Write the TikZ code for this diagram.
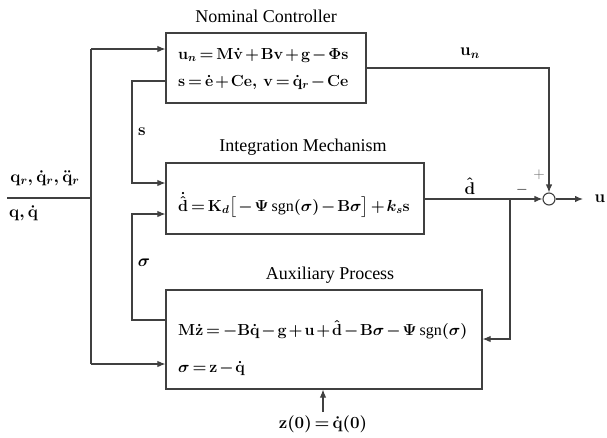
\RequirePackage{fix-cm}
\documentclass[tikz,border=0pt]{standalone}
\usepackage{amsmath}
\usepackage{bm}
\usepackage{fontspec}
\setmainfont{Liberation Serif}
\usetikzlibrary{arrows.meta,calc}
\newcommand{\tightmath}{\medmuskip=1.8mu plus 1mu\thickmuskip=2.8mu plus 1mu}
\newcommand{\sgnop}{\textnormal{sgn}}
\begin{document}
\begin{tikzpicture}[x=1pt,y=-1pt,
  ln/.style={draw=black!75, line width=1.1pt},
  arr/.style={ln, -{Latex[length=8pt,width=6.5pt]}},
  blk/.style={draw=black!75, line width=1.2pt, inner sep=0pt, rectangle},
  ttl/.style={font=\fontsize{18}{20}\selectfont, inner sep=0pt},
  eq/.style={font=\fontsize{16}{18}\selectfont\boldmath\tightmath, inner sep=0pt},
  lbl/.style={font=\fontsize{17}{20}\selectfont\boldmath\tightmath, inner sep=0pt}]
\useasboundingbox (0,0) rectangle (607,437);

% blocks
\node[blk, minimum width=200pt, minimum height=70pt] (b1) at (266,68) {};
\node[blk, minimum width=258pt, minimum height=71pt] (b2) at (295,198.5) {};
\node[blk, minimum width=316pt, minimum height=99pt] (b3) at (324,339.5) {};
\node[draw=black!75, line width=1.1pt, circle, minimum size=12pt, inner sep=0pt, fill=white] (sum) at (549,199) {};

% titles
\node[ttl] (t1) at (266,16) {Nominal Controller};
\node[ttl] (t2) at (303,147) {Integration Mechanism};
\node[ttl] (t3) at (330,275) {Auxiliary Process};

% equations
\node[eq, anchor=west] (e1) at (178,55) {$\mathbf{u}_{n}=\mathbf{M}\dot{\mathbf{v}}+\mathbf{B}\mathbf{v}+\mathbf{g}-\bm{\Phi}\mathbf{s}$};
\node[eq, anchor=west] (e2) at (178,82) {$\mathbf{s}=\dot{\mathbf{e}}+\mathbf{C}\mathbf{e},\,\mathbf{v}=\dot{\mathbf{q}}_{r}-\mathbf{C}\mathbf{e}$};
\node[eq] (e3) at (294,205) {$\dot{\hat{\mathbf{d}}}=\mathbf{K}_{d}\big[-\bm{\Psi}\,\sgnop(\bm{\sigma})-\mathbf{B}\bm{\sigma}\big]+k_{s}\mathbf{s}$};
\node[eq, anchor=west] (e4) at (178,330) {$\mathbf{M}\dot{\mathbf{z}}=-\mathbf{B}\dot{\mathbf{q}}-\mathbf{g}+\mathbf{u}+\hat{\mathbf{d}}-\mathbf{B}\bm{\sigma}-\bm{\Psi}\,\sgnop(\bm{\sigma})$};
\node[eq, anchor=west] (e5) at (178,368) {$\bm{\sigma}=\mathbf{z}-\dot{\mathbf{q}}$};

% input labels
\node[lbl] (in1) at (45,178) {$\mathbf{q}_{r},\dot{\mathbf{q}}_{r},\ddot{\mathbf{q}}_{r}$};
\node[lbl, anchor=west] (in2) at (9,213) {$\mathbf{q},\dot{\mathbf{q}}$};
\node[lbl] (ls) at (142,132) {$\mathbf{s}$};
\node[lbl] (lsig) at (144,263) {$\bm{\sigma}$};
\node[lbl] (lun) at (470,53) {$\mathbf{u}_{n}$};
\node[lbl] (ld) at (470,186) {$\hat{\mathbf{d}}$};
\node[lbl] (lu) at (600,199) {$\mathbf{u}$};
\node[font=\fontsize{15}{16}\selectfont, inner sep=0pt] (minus) at (522,190) {$-$};
\node[font=\fontsize{15}{16}\selectfont, inner sep=0pt, text=black!60] (plus) at (539,175) {$+$};
\node[lbl] (z0) at (323,424) {$\mathbf{z}(0)=\dot{\mathbf{q}}(0)$};

% coordinates
\coordinate (inL) at (7,198);
\coordinate (inJ) at (91,198);
\coordinate (top) at (91,49);
\coordinate (bot) at (91,364);
\coordinate (sL) at (132,81);
\coordinate (sB) at (132,183);
\coordinate (gB) at (132,320);
\coordinate (gT) at (132,214);
\coordinate (unC) at (549,68);
\coordinate (br) at (510,199);
\coordinate (brB) at (510,339);
\coordinate (uo) at (583,199);
\coordinate (zs) at (323,412);

% connectors
\draw[ln] (inL) -- (inJ);
\draw[ln] (top) -- (bot);
\draw[arr] (top) -- (b1.west |- top);
\draw[arr] (bot) -- (b3.west |- bot);
\draw[arr] (b1.west |- sL) -- (sL) -- (sB) -- (b2.west |- sB);
\draw[arr] (b3.west |- gB) -- (gB) -- (gT) -- (b2.west |- gT);
\draw[arr] (b1.east |- unC) -- (unC) -- (sum.north);
\draw[arr] (b2.east |- br) -- (sum.west);
\draw[arr] (br) -- (brB) -- (b3.east |- brB);
\draw[arr] (sum.east) -- (uo);
\draw[arr] (zs) -- (b3.south -| zs);
\end{tikzpicture}
\end{document}
